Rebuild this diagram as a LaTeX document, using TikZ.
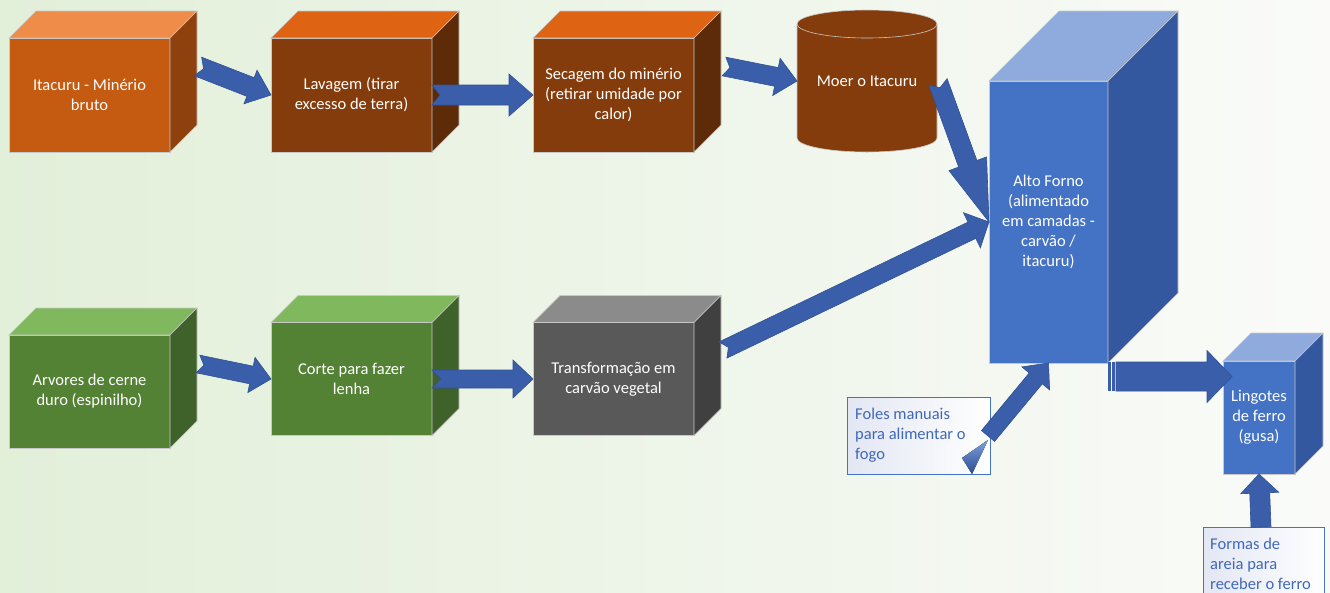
\documentclass[tikz,border=0pt]{standalone}
\usepackage{fontspec}
\setmainfont{Carlito}
\usetikzlibrary{calc}
\definecolor{bgL}{HTML}{E2EFD9}
\definecolor{bgR}{HTML}{FAFBF9}
\definecolor{edgec}{HTML}{C8C8C8}
\definecolor{orF}{HTML}{C55A11}
\definecolor{orT}{HTML}{F08C4A}
\definecolor{orS}{HTML}{8E400D}
\definecolor{brF}{HTML}{843C0C}
\definecolor{brT}{HTML}{DE6414}
\definecolor{brS}{HTML}{5E2B09}
\definecolor{grF}{HTML}{548235}
\definecolor{grT}{HTML}{80B85E}
\definecolor{grS}{HTML}{3E6229}
\definecolor{gyF}{HTML}{595959}
\definecolor{gyT}{HTML}{8B8B8B}
\definecolor{gyS}{HTML}{404040}
\definecolor{blF}{HTML}{4472C4}
\definecolor{blT}{HTML}{8FAADC}
\definecolor{blS}{HTML}{3358A0}
\definecolor{arrowfill}{HTML}{3B5EAB}
\definecolor{arrowdraw}{HTML}{2F5294}
\definecolor{callL}{HTML}{E3E7F4}
\definecolor{callT}{HTML}{4068B8}
\definecolor{ptrT}{HTML}{7F9EDA}
\definecolor{ptrB}{HTML}{2B4F94}
\newcommand\mkcube[4]{%
  \filldraw[facestyle, fill=#3] (#1.north west) -- ([shift={(#2pt,#2pt)}]#1.north west) -- ([shift={(#2pt,#2pt)}]#1.north east) -- (#1.north east) -- cycle;
  \filldraw[facestyle, fill=#4] (#1.north east) -- ([shift={(#2pt,#2pt)}]#1.north east) -- ([shift={(#2pt,#2pt)}]#1.south east) -- (#1.south east) -- cycle;
}
\newcommand\mkarrow[6]{%
  \coordinate (mkH) at ($(#2)!#5pt!(#1)$);
  \filldraw[barrow] ($(#1)!#3pt!90:(#2)$) -- ($(mkH)!#3pt!90:(#2)$) -- ($(mkH)!#4pt!90:(#2)$) -- (#2) -- ($(mkH)!#4pt!-90:(#2)$) -- ($(mkH)!#3pt!-90:(#2)$) -- ($(#1)!#3pt!-90:(#2)$) -- ($(#1)!#6pt!(#2)$) -- cycle;
}
\begin{document}
\begin{tikzpicture}[x=1pt,y=-1pt,
  facestyle/.style={draw=edgec, line width=0.6pt, line join=miter},
  cubefront/.style={draw=edgec, line width=0.6pt, inner sep=0pt, outer sep=0pt, text=white, align=center, font=\fontsize{16.5}{20}\selectfont},
  barrow/.style={fill=arrowfill, draw=arrowdraw, line width=0.6pt, line join=miter},
  callout/.style={draw=blF, line width=0.8pt, left color=callL, right color=white, inner sep=0pt, outer sep=0pt},
  callouttext/.style={text=callT, align=flush left, inner sep=0pt, font=\fontsize{16.5}{20}\selectfont}]
\useasboundingbox (0,0) rectangle (1330,592);
\fill[left color=bgL, right color=bgR] (0,0) rectangle (1330,592);

% top row
\node[cubefront, fill=orF, minimum width=161pt, minimum height=114pt] (itacuru) at (89.5,95) {Itacuru - Minério\\bruto};
\mkcube{itacuru}{27}{orT}{orS}
\node[cubefront, fill=brF, minimum width=161pt, minimum height=114pt] (lavagem) at (351.5,95) {Lavagem (tirar\\excesso de terra)};
\mkcube{lavagem}{27}{brT}{brS}
\node[cubefront, fill=brF, minimum width=161pt, minimum height=114pt] (secagem) at (613.5,95) {Secagem do minério\\(retirar umidade por\\calor)};
\mkcube{secagem}{27}{brT}{brS}

% cylinder
\filldraw[fill=brF, draw=edgec, line width=0.6pt] (797,24) -- (797,138) arc[start angle=180, end angle=360, x radius=70pt, y radius=14pt] -- (937,24) arc[start angle=0, end angle=180, x radius=70pt, y radius=14pt] -- cycle;
\draw[edgec, line width=0.6pt] (937,24) arc[start angle=0, end angle=-180, x radius=70pt, y radius=14pt];
\node[cubefront, draw=none, minimum width=140pt, minimum height=114pt] (moer) at (867,81) {Moer o Itacuru};

% bottom row
\node[cubefront, fill=grF, minimum width=161pt, minimum height=113pt] (arvores) at (89.5,391.5) {Arvores de cerne\\duro (espinilho)};
\mkcube{arvores}{27}{grT}{grS}
\node[cubefront, fill=grF, minimum width=161pt, minimum height=113pt] (corte) at (351.5,379) {Corte para fazer\\lenha};
\mkcube{corte}{27}{grT}{grS}
\node[cubefront, fill=gyF, minimum width=161pt, minimum height=113pt] (transf) at (613.5,379) {Transformação em\\carvão vegetal};
\mkcube{transf}{27}{gyT}{gyS}

% furnace and ingots
\node[cubefront, fill=blF, minimum width=119pt, minimum height=282pt] (forno) at (1048.5,222) {Alto Forno\\(alimentado\\em camadas -\\carvão /\\itacuru)};
\mkcube{forno}{70}{blT}{blS}
\node[cubefront, fill=blF, minimum width=72pt, minimum height=113pt] (lingotes) at (1259,417.5) {Lingotes\\de ferro\\(gusa)};
\mkcube{lingotes}{28}{blT}{blS}

% callouts
\node[callout, anchor=north west, minimum width=143pt, minimum height=77pt] (foles) at (847,397) {};
\node[callouttext, anchor=west] (folestext) at (855,435.5) {Foles manuais\\para alimentar o\\fogo};
\fill[top color=ptrT, bottom color=ptrB] (988,440) -- (962,458) -- (972,474) -- cycle;
\node[callout, anchor=north west, minimum width=121pt, minimum height=74pt] (formas) at (1203,527) {};
\node[callouttext, anchor=west] (formastext) at (1210,564) {Formas de\\areia para\\receber o ferro};

% arrow end coordinates
\coordinate (a1t) at (198,66.5);
\coordinate (a3t) at (724,66.5);
\coordinate (a6t) at (938,82);
\coordinate (a7t) at (723,350);
\coordinate (a4t) at (198,364);
\coordinate (fot) at (988,436);
\coordinate (lgt) at (1116,376.5);
\coordinate (lgh) at (1232,376.5);
\coordinate (fmt) at (1261,527);

% arrows
\mkarrow{a1t}{lavagem.west}{10}{18}{22}{6}
\mkarrow{lavagem.east}{secagem.west}{10}{21}{24}{8}
\mkarrow{a3t}{moer.west}{9.5}{19}{21}{6}
\mkarrow{a6t}{forno.west}{9.7}{20}{62}{6}
\mkarrow{a7t}{forno.west}{9}{19.5}{19}{6}
\mkarrow{a4t}{corte.west}{9}{18}{20}{6}
\mkarrow{corte.east}{transf.west}{9}{19}{20}{9}
\mkarrow{fot}{forno.south}{8.5}{18}{20}{0}
\fill[arrowfill] (1107.5,362) rectangle (1110.5,391);
\fill[arrowfill] (1112,362) rectangle (1114.5,391);
\mkarrow{lgt}{lgh}{14.5}{26}{25}{0}
\mkarrow{fmt}{lingotes.south}{10}{19}{19}{0}
\end{tikzpicture}
\end{document}
